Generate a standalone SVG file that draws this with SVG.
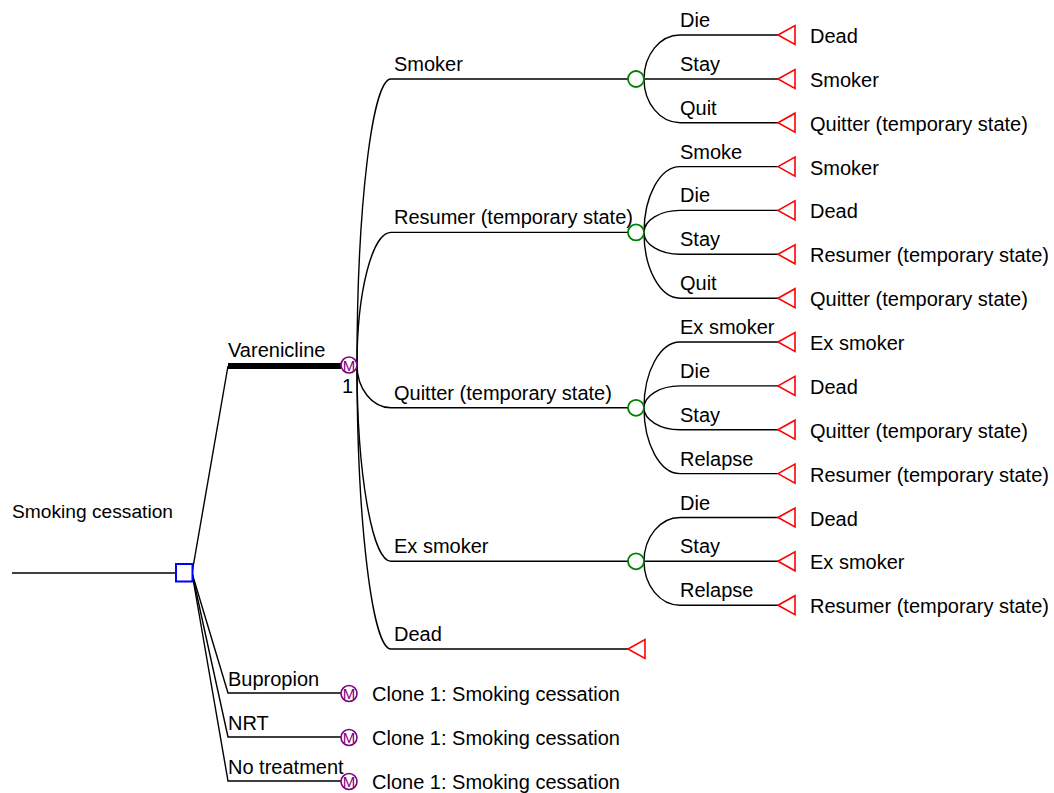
<svg xmlns="http://www.w3.org/2000/svg" width="1054" height="793" viewBox="0 0 1054 793">
<style>
text{font-family:"Liberation Sans",Arial,sans-serif;font-size:20px;fill:#000}
.ln{fill:none;stroke:#000;stroke-width:1.4}
.thick{fill:none;stroke:#000;stroke-width:6}
.dec{fill:#fff;stroke:#0000ff;stroke-width:2}
.ch{fill:#fff;stroke:#008000;stroke-width:1.8}
.mk{fill:#fff;stroke:#800080;stroke-width:1.6}
.mt{font-size:15px;fill:#800080;text-anchor:middle}
.term{fill:#fff;stroke:#ff0000;stroke-width:1.6}
</style>
<rect width="1054" height="793" fill="#fff"/>
<g id="connectors">
<path class="ln" d="M12,573 H176"/>
<path class="ln" d="M192,573 L228,366"/>
<path class="thick" d="M228,366 H341"/>
<path class="ln" d="M192,573 L228,693 H341"/>
<path class="ln" d="M192,573 L228,737 H341"/>
<path class="ln" d="M192,573 L228,781 H341"/>
<path class="ln" d="M357,365 A34,286 0 0 1 391,79 H628"/>
<path class="ln" d="M357,365 A34,132.6 0 0 1 391,232.4 H628"/>
<path class="ln" d="M357,365 A34,42.8 0 0 0 391,407.8 H628"/>
<path class="ln" d="M357,365 A34,196.3 0 0 0 391,561.3 H628"/>
<path class="ln" d="M357,365 A34,284 0 0 0 391,649 H628"/>
<path class="ln" d="M644,79 A36,44 0 0 1 680,35 H778"/>
<path class="ln" d="M644,79 H778"/>
<path class="ln" d="M644,79 A36,43.7 0 0 0 680,122.7 H778"/>
<path class="ln" d="M644,232.4 A36,65.8 0 0 1 680,166.6 H778"/>
<path class="ln" d="M644,232.4 A36,22 0 0 1 680,210.4 H778"/>
<path class="ln" d="M644,232.4 A36,21.9 0 0 0 680,254.3 H778"/>
<path class="ln" d="M644,232.4 A36,65.8 0 0 0 680,298.2 H778"/>
<path class="ln" d="M644,407.8 A36,65.8 0 0 1 680,342 H778"/>
<path class="ln" d="M644,407.8 A36,21.9 0 0 1 680,385.9 H778"/>
<path class="ln" d="M644,407.8 A36,21.9 0 0 0 680,429.7 H778"/>
<path class="ln" d="M644,407.8 A36,65.8 0 0 0 680,473.6 H778"/>
<path class="ln" d="M644,561.3 A36,43.8 0 0 1 680,517.5 H778"/>
<path class="ln" d="M644,561.3 H778"/>
<path class="ln" d="M644,561.3 A36,43.9 0 0 0 680,605.2 H778"/>
</g>
<g id="branch-labels">
<text x="228" y="357">Varenicline</text>
<text x="228" y="686">Bupropion</text>
<text x="228" y="730">NRT</text>
<text x="228" y="774">No treatment</text>
<text x="394" y="71">Smoker</text>
<text x="394" y="224.4">Resumer (temporary state)</text>
<text x="394" y="399.8">Quitter (temporary state)</text>
<text x="394" y="553.3">Ex smoker</text>
<text x="394" y="641">Dead</text>
<text x="680" y="27">Die</text>
<text x="680" y="71">Stay</text>
<text x="680" y="114.7">Quit</text>
<text x="680" y="158.6">Smoke</text>
<text x="680" y="202.4">Die</text>
<text x="680" y="246.3">Stay</text>
<text x="680" y="290.2">Quit</text>
<text x="680" y="334">Ex smoker</text>
<text x="680" y="377.9">Die</text>
<text x="680" y="421.7">Stay</text>
<text x="680" y="465.6">Relapse</text>
<text x="680" y="509.5">Die</text>
<text x="680" y="553.3">Stay</text>
<text x="680" y="597.2">Relapse</text>
</g>
<g id="root">
<text x="12" y="518" style="font-size:19.2px">Smoking cessation</text>
</g>
<g id="decision">
<rect class="dec" x="176" y="564" width="16.5" height="17.5"/>
</g>
<g id="markov-varenicline">
<circle class="mk" cx="349" cy="365" r="8"/>
<text class="mt" x="349" y="370.5">M</text>
<text x="342" y="393">1</text>
</g>
<g id="chance-smoker"><circle class="ch" cx="636" cy="79" r="8"/></g>
<g id="chance-resumer"><circle class="ch" cx="636" cy="232.4" r="8"/></g>
<g id="chance-quitter"><circle class="ch" cx="636" cy="407.8" r="8"/></g>
<g id="chance-exsmoker"><circle class="ch" cx="636" cy="561.3" r="8"/></g>
<g id="terminal-dead-main"><polygon class="term" points="628,649 645,639.5 645,658.5"/></g>
<g id="terminals">
<polygon class="term" points="778,35 795,25.5 795,44.5"/><text x="810" y="43">Dead</text>
<polygon class="term" points="778,79 795,69.5 795,88.5"/><text x="810" y="87">Smoker</text>
<polygon class="term" points="778,122.7 795,113.2 795,132.2"/><text x="810" y="130.7">Quitter (temporary state)</text>
<polygon class="term" points="778,166.6 795,157.1 795,176.1"/><text x="810" y="174.6">Smoker</text>
<polygon class="term" points="778,210.4 795,200.9 795,219.9"/><text x="810" y="218.4">Dead</text>
<polygon class="term" points="778,254.3 795,244.8 795,263.8"/><text x="810" y="262.3">Resumer (temporary state)</text>
<polygon class="term" points="778,298.2 795,288.7 795,307.7"/><text x="810" y="306.2">Quitter (temporary state)</text>
<polygon class="term" points="778,342 795,332.5 795,351.5"/><text x="810" y="350">Ex smoker</text>
<polygon class="term" points="778,385.9 795,376.4 795,395.4"/><text x="810" y="393.9">Dead</text>
<polygon class="term" points="778,429.7 795,420.2 795,439.2"/><text x="810" y="437.7">Quitter (temporary state)</text>
<polygon class="term" points="778,473.6 795,464.1 795,483.1"/><text x="810" y="481.6">Resumer (temporary state)</text>
<polygon class="term" points="778,517.5 795,508 795,527"/><text x="810" y="525.5">Dead</text>
<polygon class="term" points="778,561.3 795,551.8 795,570.8"/><text x="810" y="569.3">Ex smoker</text>
<polygon class="term" points="778,605.2 795,595.7 795,614.7"/><text x="810" y="613.2">Resumer (temporary state)</text>
</g>
<g id="clone-bupropion">
<circle class="mk" cx="349" cy="693.5" r="8"/><text class="mt" x="349" y="699">M</text>
<text x="372" y="701">Clone 1: Smoking cessation</text>
</g>
<g id="clone-nrt">
<circle class="mk" cx="349" cy="737.5" r="8"/><text class="mt" x="349" y="743">M</text>
<text x="372" y="745">Clone 1: Smoking cessation</text>
</g>
<g id="clone-notreatment">
<circle class="mk" cx="349" cy="781.5" r="8"/><text class="mt" x="349" y="787">M</text>
<text x="372" y="789">Clone 1: Smoking cessation</text>
</g>
</svg>
